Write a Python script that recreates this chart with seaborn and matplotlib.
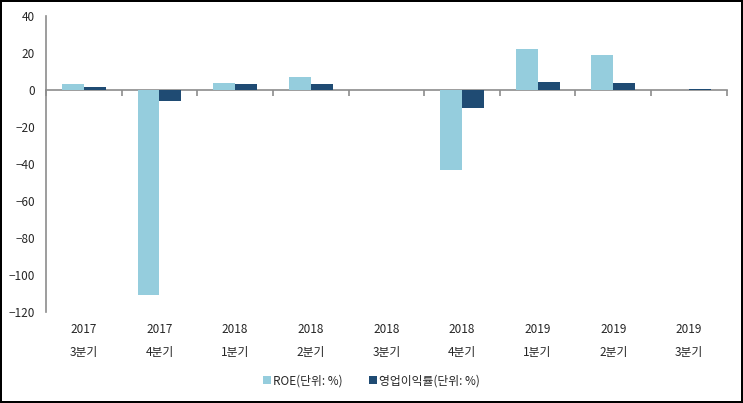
import pandas as pd
import seaborn as sns
import matplotlib.pyplot as plt
import matplotlib.patches as mpatches

sns.set_style("white")
plt.rcParams["font.family"] = ["Noto Sans CJK KR", "DejaVu Sans"]

################################ data

years = ["2017", "2017", "2018", "2018", "2018", "2018", "2019", "2019", "2019"]
quarters = ["3분기", "4분기", "1분기", "2분기", "3분기", "4분기", "1분기", "2분기", "3분기"]
roe = [3.2, -111.0, 3.8, 7.0, 0.0, -43.5, 22.2, 18.9, 0.0]
op_margin = [1.6, -5.9, 3.2, 3.2, 0.0, -9.7, 4.3, 3.8, 0.5]

SERIES = ["ROE(단위: %)", "영업이익률(단위: %)"]
COLORS = {SERIES[0]: "#95CDDD", SERIES[1]: "#1F4B73"}
AXIS_COLOR = "#8C8C8C"

labels = [f"{y}\n{q}" for y, q in zip(years, quarters)]
df = pd.DataFrame({
    "period": labels * 2,
    "series": [SERIES[0]] * len(labels) + [SERIES[1]] * len(labels),
    "value": roe + op_margin,
})

################################ plot

fig = plt.figure(figsize=(7.43, 4.03), dpi=100)
fig.set_edgecolor("black")
fig.set_linewidth(1.5)
ax = fig.add_axes([0.062, 0.226, 0.916, 0.734])

sns.barplot(ax=ax, data=df, x="period", y="value", hue="series",
            hue_order=SERIES, palette=COLORS, width=0.58,
            linewidth=0, saturation=1, legend=False)

ax.set_xlim(-0.5, len(labels) - 0.5)
ax.set_ylim(-120, 40)
ax.yaxis.set_major_locator(plt.MultipleLocator(20))
ax.set_xlabel("")
ax.set_ylabel("")

for side in ["top", "right", "bottom"]:
    ax.spines[side].set_visible(False)
ax.spines["left"].set_color(AXIS_COLOR)
ax.spines["left"].set_linewidth(1.2)
ax.tick_params(axis="y", direction="out", length=4, width=1.2,
               color=AXIS_COLOR, labelsize=8.5, pad=4)
ax.tick_params(axis="x", length=0, labelsize=8.5, pad=8)
for t in ax.get_xticklabels():
    t.set_linespacing(2.0)

# zero line with category separators
zero_ax = ax.secondary_xaxis(0, transform=ax.transData)
zero_ax.set_xticks([i - 0.5 for i in range(len(labels) + 1)])
zero_ax.set_xticklabels([])
zero_ax.spines["bottom"].set_color(AXIS_COLOR)
zero_ax.spines["bottom"].set_linewidth(1.2)
zero_ax.tick_params(direction="out", length=4, width=1.2, color=AXIS_COLOR)

handles = [mpatches.Patch(facecolor=COLORS[s], edgecolor="none", label=s) for s in SERIES]
fig.legend(handles=handles, loc="center", bbox_to_anchor=(0.5, 0.055), ncol=2,
           frameon=False, fontsize=8.5, handlelength=0.7, handleheight=0.7,
           handletextpad=0.2, columnspacing=2.2)

fig.savefig("out.png", dpi=100, edgecolor=fig.get_edgecolor())
plt.close()
